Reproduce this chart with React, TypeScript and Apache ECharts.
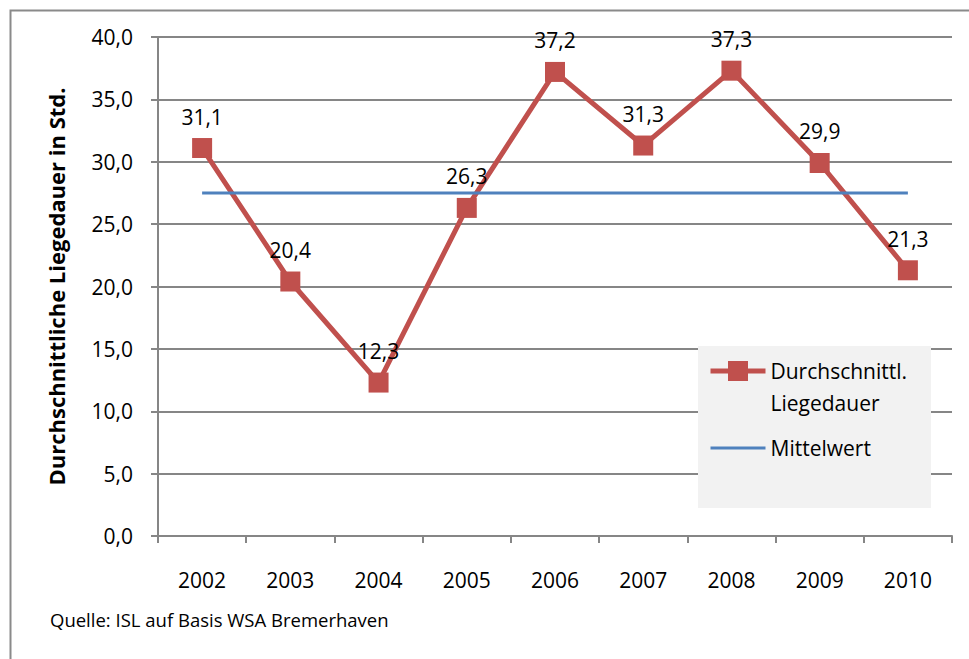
import React, { useEffect, useRef } from "react";
import * as echarts from "echarts";

const years = ["2002", "2003", "2004", "2005", "2006", "2007", "2008", "2009", "2010"];
const liegedauer = [31.1, 20.4, 12.3, 26.3, 37.2, 31.3, 37.3, 29.9, 21.3];
const mittelwert = [27.5, 27.5, 27.5, 27.5, 27.5, 27.5, 27.5, 27.5, 27.5];
const yTicks = { min: 0, max: 40, interval: 5 };

const SERIES_A = "Durchschnittl. Liegedauer";
const SERIES_B = "Mittelwert";

const FONT = "'Open Sans', 'Noto Sans', sans-serif";
const AXIS_GRAY = "#868686";
const RED = "#c0504d";
const BLUE = "#4f81bd";
const fmt = (v: number) => v.toFixed(1).replace(".", ",");

export default function App() {
  const ref = useRef<HTMLDivElement>(null);

  useEffect(() => {
    if (!ref.current) return;
    const chart = echarts.init(ref.current, undefined, { renderer: "svg" });
    chart.setOption({
      animation: false,
      backgroundColor: "#ffffff",
      textStyle: { fontFamily: FONT },
      grid: { left: 158, top: 37, right: 17, bottom: 123, containLabel: false },
      xAxis: {
        type: "category",
        data: years,
        boundaryGap: true,
        axisLine: { lineStyle: { color: AXIS_GRAY, width: 2 } },
        axisTick: { show: true, length: 7, lineStyle: { color: AXIS_GRAY, width: 2 } },
        axisLabel: { color: "#000", fontSize: 21, margin: 33, fontFamily: FONT },
      },
      yAxis: {
        type: "value",
        min: yTicks.min,
        max: yTicks.max,
        interval: yTicks.interval,
        name: "Durchschnittliche Liegedauer in Std.",
        nameLocation: "middle",
        nameGap: 91,
        nameTextStyle: { color: "#000", fontSize: 22, fontWeight: "bold", fontFamily: FONT },
        axisLine: { show: true, lineStyle: { color: AXIS_GRAY, width: 2 } },
        axisTick: { show: true, length: 7, lineStyle: { color: AXIS_GRAY, width: 2 } },
        axisLabel: { color: "#000", fontSize: 21, margin: 25, fontFamily: FONT, formatter: (v: number) => fmt(v) },
        splitLine: { show: true, lineStyle: { color: AXIS_GRAY, width: 2 } },
      },
      graphic: [
        {
          type: "rect",
          left: 8,
          top: 8,
          shape: { x: 0, y: 0, width: 990, height: 700 },
          style: { fill: "none", stroke: "#8a8a8a", lineWidth: 2 },
          silent: true,
        },
        {
          // legend panel background
          type: "rect",
          z: 3,
          shape: { x: 698, y: 346, width: 233, height: 162 },
          style: { fill: "#f2f2f2" },
          silent: true,
        },
        {
          type: "text",
          left: 50,
          top: 610,
          style: { text: "Quelle: ISL auf Basis WSA Bremerhaven", fill: "#000", font: `18.5px ${FONT}` },
        },
      ],
      legend: {
        orient: "vertical",
        left: 708,
        top: 323,
        padding: 0,
        z: 5,
        itemWidth: 55,
        itemHeight: 25,
        itemGap: 13,
        selectedMode: false,
        textStyle: { color: "#000", fontSize: 21, fontFamily: FONT, lineHeight: 32 },
        // the leading blank line keeps the marker level with the first text line
        formatter: (name: string) =>
          name === SERIES_A ? " \nDurchschnittl.\nLiegedauer" : name,
        data: [
          { name: SERIES_A, lineStyle: { width: 5 } },
          { name: SERIES_B, lineStyle: { width: 3 }, itemStyle: { opacity: 0 } },
        ],
      },
      series: [
        {
          name: SERIES_A,
          type: "line",
          data: liegedauer,
          z: 4,
          symbol: "rect",
          symbolSize: 20,
          itemStyle: { color: RED },
          lineStyle: { color: RED, width: 5 },
          label: {
            show: true,
            position: "top",
            distance: 11,
            color: "#000",
            fontSize: 21,
            fontFamily: FONT,
            formatter: (p: any) => fmt(p.value),
          },
        },
        {
          name: SERIES_B,
          type: "line",
          data: mittelwert,
          z: 4,
          symbol: "none",
          showSymbol: false,
          itemStyle: { color: BLUE },
          lineStyle: { color: BLUE, width: 3 },
        },
      ],
    });
    return () => chart.dispose();
  }, []);

  return (
    <div
      ref={ref}
      style={{ position: "fixed", left: 0, top: 0, width: 969, height: 659, background: "#fff" }}
    />
  );
}
